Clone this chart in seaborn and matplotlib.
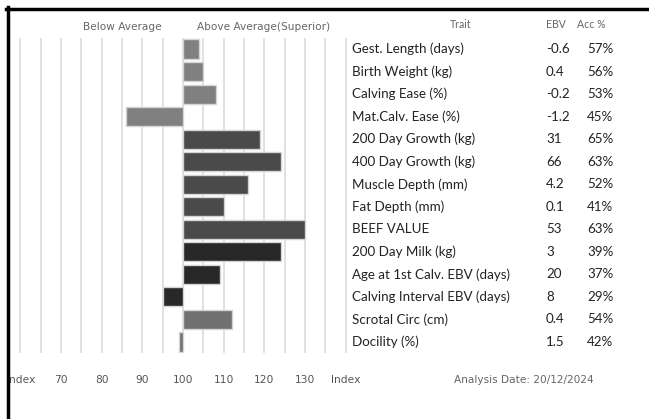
import matplotlib
matplotlib.use("Agg")
import matplotlib.pyplot as plt
import matplotlib.transforms as mtransforms
from matplotlib.lines import Line2D
import numpy as np
import pandas as pd
import seaborn as sns

traits = ["Gest. Length (days)", "Birth Weight (kg)", "Calving Ease (%)",
          "Mat.Calv. Ease (%)", "200 Day Growth (kg)", "400 Day Growth (kg)",
          "Muscle Depth (mm)", "Fat Depth (mm)", "BEEF VALUE", "200 Day Milk (kg)",
          "Age at 1st Calv. EBV (days)", "Calving Interval EBV (days)",
          "Scrotal Circ (cm)", "Docility (%)"]
index_values = [104, 105, 108, 86, 119, 124, 116, 110, 130, 124, 109, 95, 112, 99]
ebv = ["-0.6", "0.4", "-0.2", "-1.2", "31", "66", "4.2", "0.1", "53", "3",
       "20", "8", "0.4", "1.5"]
acc = ["57%", "56%", "53%", "45%", "65%", "63%", "52%", "41%", "63%", "39%",
       "37%", "29%", "54%", "42%"]
bar_colors = ["#808080"] * 4 + ["#4a4a4a"] * 5 + ["#282828"] * 3 + ["#707070"] * 2
tick_values = [60, 70, 80, 90, 100, 110, 120, 130, 140]
tick_labels = ["Index", "70", "80", "90", "100", "110", "120", "130", "Index"]
analysis_date = "20/12/2024"

W, H = 649, 419
fig = plt.figure(figsize=(W / 100, H / 100), dpi=100)


def fx(px):
    return px / W


def fy(py):
    return 1 - py / H


# bar panel, bars drawn as deviation from the breed average of 100
ax = fig.add_axes([fx(6), fy(353.25), fx(347) - fx(6), fy(37.75) - fy(353.25)])
df = pd.DataFrame({"trait": traits, "delta": [v - 100 for v in index_values]})
sns.barplot(data=df, x="delta", y="trait", hue="trait", palette=bar_colors,
            legend=False, width=0.85, edgecolor="#d4d4d4", linewidth=1,
            orient="h", ax=ax)
ax.set_xlim(-43.5, 40.29)
ax.set_ylim(13.5, -0.5)
ax.set_xticks([t - 100 for t in tick_values])
ax.set_xticklabels(tick_labels, fontsize=7.7, color="#555555", family="DejaVu Sans")
ax.set_xticks(np.arange(-35, 40, 10), minor=True)
ax.grid(axis="x", which="both", color="#dcdcdc", linewidth=1.2)
ax.set_axisbelow(True)
ax.tick_params(axis="x", which="both", length=0, pad=16)
ax.tick_params(axis="y", length=0, labelleft=False)
ax.set_xlabel("")
ax.set_ylabel("")
for s in ax.spines.values():
    s.set_visible(False)

# table to the right, rows aligned to the bar rows
trans = mtransforms.blended_transform_factory(fig.transFigure, ax.transData)
cell = dict(transform=trans, ha="left", va="center", fontsize=9.6,
            family="Lato", color="#222222", clip_on=False)
for i, (t, e, a) in enumerate(zip(traits, ebv, acc)):
    ax.text(fx(352), i, t, **cell)
    ax.text(fx(546), i, e, **cell)
    ax.text(fx(587), i, a, **cell)

hdr = dict(fontsize=7.6, color="#666666", va="center", family="Lato")
fig.text(fx(461), fy(24.5), "Trait", ha="center", **hdr)
fig.text(fx(546), fy(24.5), "EBV", ha="left", **hdr)
fig.text(fx(577), fy(24.5), "Acc %", ha="left", **hdr)
side = dict(family="DejaVu Sans", fontsize=7.6, color="#666666", va="center")
fig.text(fx(122), fy(27), "Below Average", ha="center", **side)
fig.text(fx(264), fy(27), "Above Average(Superior)", ha="center", **side)
fig.text(fx(524), fy(380), "Analysis Date: " + analysis_date, ha="center", **side)

# black frame on top and left
fig.add_artist(Line2D([fx(6), 1], [fy(8.7), fy(8.7)], color="black",
                      linewidth=2.5, transform=fig.transFigure))
fig.add_artist(Line2D([fx(7.5), fx(7.5)], [fy(7), 0], color="black",
                      linewidth=2.5, transform=fig.transFigure))

fig.savefig("out.png", dpi=100, facecolor="white")
